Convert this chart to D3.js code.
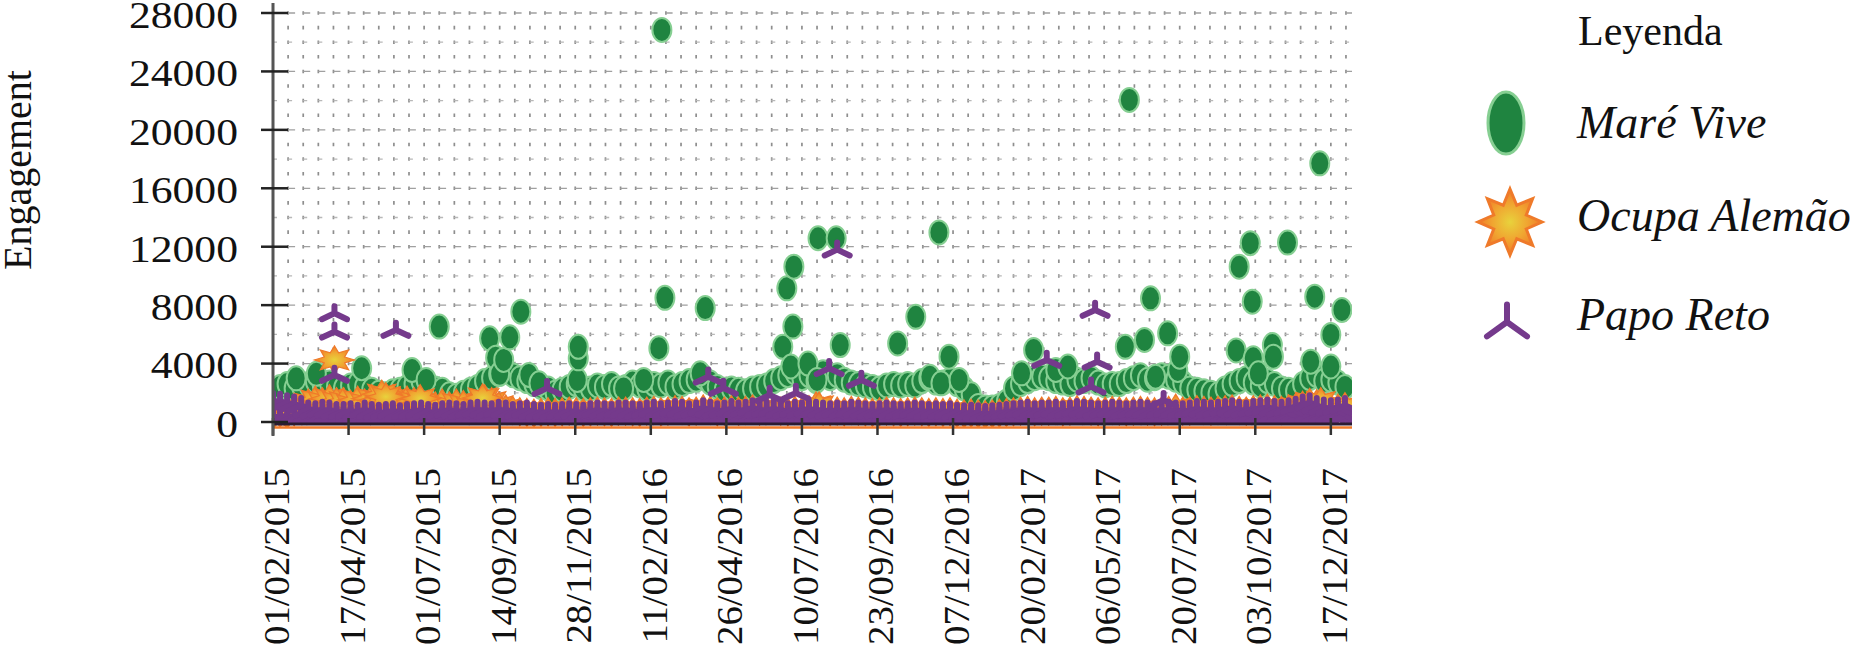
<!DOCTYPE html>
<html>
<head>
<meta charset="utf-8">
<script src="https://cdn.jsdelivr.net/npm/d3@7"></script>
<style>
  body { margin: 0; background: #fff; }
  svg { display: block; }
</style>
</head>
<body>
<svg id="chart" width="1862" height="657"></svg>
<script>
// ---- data ----
const xTickLabels = ["01/02/2015", "17/04/2015", "01/07/2015", "14/09/2015", "28/11/2015",
  "11/02/2016", "26/04/2016", "10/07/2016", "23/09/2016", "07/12/2016",
  "20/02/2017", "06/05/2017", "20/07/2017", "03/10/2017", "17/12/2017"];
const yTicks = [0, 4000, 8000, 12000, 16000, 20000, 24000, 28000];
const seriesNames = ["Maré Vive", "Ocupa Alemão", "Papo Reto"];

// weekly typical engagement, first week starting 2015-02-01
const weekStart = "2015-02-01";
const mareViveWeekly = [
  2200, 2400, 2600, 2300, 2500, 2600, 2800, 2500, 2700, 2400,
  2300, 2500, 2600, 2400, 2200, 2000, 1900, 2100, 2200, 2400,
  2600, 2800, 2500, 2300, 2200, 1900, 1800, 2000, 2200, 2400,
  2800, 3000, 3300, 3500, 3200, 3000, 2800, 2600, 2400, 2300,
  2000, 2200, 2400, 2600, 2300, 2300, 2500, 2400, 2600, 2300,
  2400, 2700, 2500, 2300, 2600, 2500, 2700, 2400, 2600, 2800,
  2900, 3100, 2700, 2400, 2200, 2300, 2200, 2100, 2300, 2400,
  2500, 2800, 3000, 3200, 3400, 3000, 3200, 2800, 3400, 3000,
  3200, 2900, 2700, 2600, 2500, 2400, 2300, 2500, 2600, 2500,
  2600, 2500, 2800, 3000, 2700, 2700, 2900, 2600, 2300, 1900,
  1100, 1000, 1000, 1100, 1400, 2300, 2600, 2800, 3000, 3100,
  3000, 2800, 2700, 2600, 2900, 2800, 3000, 2700, 2500, 2600,
  2600, 2800, 3000, 3200, 2900, 3000, 3200, 3100, 2900, 2700,
  2300, 2200, 2100, 2000, 1900, 2300, 2600, 2800, 3000, 2700,
  2500, 2800, 2600, 2300, 2200, 2100, 2600, 3000, 3200, 2800,
  2900, 2700, 2400
];
const ocupaAlemaoWeekly = [
  400, 600, 500, 700, 900, 1300, 1500, 1400, 1600, 1400,
  1400, 1200, 1500, 1300, 1600, 1500, 1700, 1600, 1400, 1500,
  1400, 1300, 1200, 1100, 1300, 1100, 1300, 1200, 1000, 900,
  1600, 1400, 1100, 900, 800, 700, 650, 600, 650, 700,
  650, 700, 750, 700, 650, 700, 750, 700, 650, 750,
  750, 700, 650, 750, 800, 700, 750, 850, 800, 700,
  750, 900, 800, 700, 750, 850, 750, 800, 900, 750,
  800, 850, 750, 700, 800, 750, 850, 1100, 750, 700,
  750, 700, 800, 750, 700, 650, 700, 750, 700, 650,
  700, 750, 700, 650, 700, 650, 700, 600, 550, 600,
  550, 500, 550, 600, 650, 700, 750, 800, 700, 750,
  750, 800, 700, 750, 850, 800, 750, 700, 750, 800,
  750, 700, 750, 800, 750, 700, 750, 800, 950, 750,
  750, 850, 800, 750, 800, 850, 900, 800, 750, 850,
  900, 950, 850, 800, 900, 1000, 1150, 1350, 1250, 950,
  900, 950, 1050
];
const papoRetoWeeklyHigh = [
  1500, 1450, 1350, 1250, 1150, 850, 800, 900, 850, 750,
  750, 800, 700, 850, 750, 700, 750, 800, 650, 750,
  800, 850, 750, 700, 800, 850, 800, 750, 850, 900,
  850, 800, 900, 850, 750, 800, 850, 750, 700, 750,
  700, 750, 800, 750, 700, 800, 850, 800, 750, 850,
  850, 800, 750, 850, 900, 800, 850, 950, 900, 800,
  850, 1000, 900, 800, 850, 950, 850, 900, 1000, 850,
  900, 950, 850, 800, 900, 850, 950, 900, 850, 800,
  850, 800, 900, 850, 800, 750, 800, 850, 800, 750,
  800, 850, 800, 750, 800, 750, 800, 700, 650, 700,
  650, 600, 650, 700, 750, 800, 850, 900, 800, 850,
  850, 900, 800, 850, 950, 900, 850, 800, 850, 900,
  850, 800, 850, 900, 850, 800, 850, 900, 850, 800,
  850, 950, 900, 850, 900, 950, 1000, 900, 850, 950,
  1000, 1050, 950, 900, 1000, 1100, 1250, 1350, 1150, 1050,
  1000, 1050, 1150
];
const papoRetoWeeklyLow = [
  450, 420, 480, 400, 460, 430, 470, 410, 440, 490,
  420, 460, 400, 450, 480, 430, 410, 470, 440, 400,
  460, 430, 490, 420, 450, 470, 400, 440, 480, 420,
  450, 410, 470, 430, 460, 400, 480, 440, 420, 460,
  430, 470, 410, 450, 490, 420, 460, 400, 440, 470,
  420, 450, 480, 410, 460, 430, 470, 400, 450, 420,
  480, 440, 410, 460, 430, 470, 420, 450, 400, 460,
  440, 480, 420, 450, 410, 470, 430, 460, 400, 440,
  470, 420, 450, 490, 430, 410, 460, 440, 480, 420,
  450, 400, 470, 430, 460, 420, 480, 440, 410, 450,
  430, 470, 400, 450, 420, 460, 490, 430, 410, 470,
  440, 420, 460, 400, 480, 450, 430, 470, 410, 440,
  460, 420, 490, 430, 450, 400, 470, 440, 420, 460,
  430, 480, 410, 450, 470, 420, 460, 400, 440, 480,
  420, 450, 470, 430, 410, 460, 440, 490, 420, 450,
  470, 430, 460
];

// single posts standing out from the weekly mass
const mareVivePosts = [
  ["2015-02-24", 2990], ["2015-03-16", 3300], ["2015-04-30", 3680], ["2015-06-19", 3560],
  ["2015-07-03", 2880], ["2015-07-16", 6530], ["2015-09-04", 5730], ["2015-09-10", 4400],
  ["2015-09-14", 3300], ["2015-09-18", 4250], ["2015-09-24", 5800], ["2015-10-05", 7550],
  ["2015-10-13", 3220], ["2015-10-23", 2650], ["2015-11-30", 2880], ["2015-12-01", 4360],
  ["2015-12-01", 5150], ["2016-01-15", 2300], ["2016-02-04", 2880], ["2016-02-19", 5050],
  ["2016-02-22", 26840], ["2016-02-25", 8500], ["2016-03-31", 3330], ["2016-04-05", 7800],
  ["2016-06-21", 5150], ["2016-06-25", 9150], ["2016-06-29", 3800], ["2016-07-01", 6530],
  ["2016-07-02", 10630], ["2016-07-16", 4000], ["2016-07-25", 2880], ["2016-07-26", 12580],
  ["2016-08-13", 12580], ["2016-08-17", 5270], ["2016-10-13", 5380], ["2016-10-31", 7200],
  ["2016-11-14", 3100], ["2016-11-23", 12980], ["2016-11-25", 2650], ["2016-12-03", 4470],
  ["2016-12-13", 2880], ["2017-02-13", 3330], ["2017-02-25", 4930], ["2017-03-19", 3560],
  ["2017-03-31", 3800], ["2017-05-27", 5150], ["2017-05-31", 22050], ["2017-06-15", 5620],
  ["2017-06-21", 8470], ["2017-06-26", 3100], ["2017-07-08", 6070], ["2017-07-18", 3560],
  ["2017-07-20", 4470], ["2017-09-14", 4900], ["2017-09-17", 10630], ["2017-09-28", 12240],
  ["2017-09-30", 8240], ["2017-10-01", 4360], ["2017-10-06", 3330], ["2017-10-20", 5270],
  ["2017-10-21", 4470], ["2017-11-04", 12280], ["2017-11-27", 4130], ["2017-12-01", 8580],
  ["2017-12-06", 17710], ["2017-12-17", 5960], ["2017-12-17", 3800], ["2017-12-28", 7670]
];
const ocupaAlemaoPosts = [
  ["2015-04-03", 4250], ["2015-05-20", 1900], ["2015-05-24", 1730], ["2015-06-27", 1600],
  ["2015-08-28", 1650], ["2016-07-27", 1100], ["2017-12-07", 1400]
];
const papoRetoPosts = [
  ["2015-04-03", 7440], ["2015-04-03", 6180], ["2015-04-03", 3220], ["2015-06-03", 6300],
  ["2015-10-31", 2320], ["2016-04-08", 3100], ["2016-04-23", 2330], ["2016-06-08", 1850],
  ["2016-07-04", 1990], ["2016-08-06", 3680], ["2016-08-14", 11800], ["2016-09-07", 2880],
  ["2017-03-10", 4250], ["2017-04-23", 2420], ["2017-04-27", 7670], ["2017-04-29", 4130],
  ["2017-07-04", 1500]
];

// ---- drawing ----
const serif = '"Liberation Serif", "Times New Roman", Times, "DejaVu Serif", serif';
const parseDay = d3.timeParse("%Y-%m-%d");
const parseTick = d3.timeParse("%d/%m/%Y");
const start = parseDay(weekStart);
const weekly = (values) => values.map((v, i) => ({ date: d3.timeDay.offset(start, 7 * i), value: v }));
const posts = (rows) => rows.map(([d, v]) => ({ date: parseDay(d), value: v }));

const green = weekly(mareViveWeekly).concat(posts(mareVivePosts));
const orange = weekly(ocupaAlemaoWeekly).concat(posts(ocupaAlemaoPosts));
const purple = weekly(papoRetoWeeklyLow)
  .concat(weekly(papoRetoWeeklyHigh))
  .concat(posts(papoRetoPosts));

const svg = d3.select("#chart");
const x = d3.scaleTime()
  .domain([parseDay("2015-02-01"), parseDay("2018-01-07")])
  .range([273, 1352]);
const y = d3.scaleLinear().domain([0, 28000]).range([422, 13]);

const colors = {
  green: "#1f8440", greenEdge: "#86cf92",
  orange: "#ef7a2a", purple: "#753a8c"
};

const defs = svg.append("defs");
const grad = defs.append("radialGradient").attr("id", "starFill");
grad.append("stop").attr("offset", "0%").attr("stop-color", "#e8d23c");
grad.append("stop").attr("offset", "55%").attr("stop-color", "#f0a531");
grad.append("stop").attr("offset", "100%").attr("stop-color", "#f07a28");
defs.append("clipPath").attr("id", "plotClip")
  .append("rect").attr("x", 273).attr("y", 0).attr("width", 1352 - 273).attr("height", 427);

function starPath(rx, ry, k) {
  const pts = d3.range(16).map(i => {
    const a = i * Math.PI / 8 - Math.PI / 2;
    const r = i % 2 ? k : 1;
    return [Math.cos(a) * rx * r, Math.sin(a) * ry * r];
  });
  return "M" + pts.map(p => p.join(",")).join("L") + "Z";
}
function triPath(w, h) {
  const up = h * 0.55, dn = h * 0.45;
  return `M0,0V${-up}M0,0L${-w / 2},${dn}M0,0L${w / 2},${dn}`;
}

// grid
const grid = svg.append("g");
const stepY = y(0) - y(1000);
grid.selectAll("line.v").data(d3.timeDay.range(x.domain()[0], x.domain()[1], 15))
  .join("line")
  .attr("x1", d => x(d)).attr("x2", d => x(d))
  .attr("y1", y(28000) - 1.8).attr("y2", y(0))
  .attr("stroke", "#8e8e8e").attr("stroke-width", 1.7)
  .attr("stroke-dasharray", `3.6 ${stepY - 3.6}`);
grid.selectAll("line.h").data(d3.range(2000, 28001, 2000))
  .join("line")
  .attr("x1", 273).attr("x2", 1352)
  .attr("y1", d => y(d)).attr("y2", d => y(d))
  .attr("stroke", d => d % 4000 === 0 ? "#a0a0a0" : "#b8b8b8")
  .attr("stroke-width", 1.3)
  .attr("stroke-dasharray", d => d % 4000 === 0 ? "7 8.1" : "4 11.1");

// marks
const plot = svg.append("g").attr("clip-path", "url(#plotClip)");
plot.append("g").selectAll("ellipse").data(green).join("ellipse")
  .attr("cx", d => x(d.date)).attr("cy", d => y(d.value))
  .attr("rx", 9.5).attr("ry", 12)
  .attr("fill", colors.green).attr("stroke", colors.greenEdge).attr("stroke-width", 2);
plot.append("g").selectAll("path").data(orange).join("path")
  .attr("transform", d => `translate(${x(d.date)},${y(d.value)})`)
  .attr("d", starPath(20, 14, 0.55))
  .attr("fill", "url(#starFill)").attr("stroke", colors.orange).attr("stroke-width", 1.2);
plot.append("g").selectAll("path").data(purple).join("path")
  .attr("transform", d => `translate(${x(d.date)},${y(d.value)})`)
  .attr("d", triPath(25, 13))
  .attr("fill", "none").attr("stroke", colors.purple)
  .attr("stroke-width", 6).attr("stroke-linecap", "round");

// x axis baseline
svg.append("line").attr("x1", 273).attr("x2", 1352).attr("y1", y(0) + 2).attr("y2", y(0) + 2)
  .attr("stroke", "#2c1b33").attr("stroke-width", 3);
svg.append("line").attr("x1", 273).attr("x2", 1352).attr("y1", y(0) + 5.5).attr("y2", y(0) + 5.5)
  .attr("stroke", colors.orange).attr("stroke-width", 2.5);

// x ticks and labels
const xTicks = xTickLabels.map(s => ({ label: s, date: parseTick(s) }));
svg.append("g").selectAll("line").data(xTicks).join("line")
  .attr("x1", d => x(d.date)).attr("x2", d => x(d.date))
  .attr("y1", y(0) - 4).attr("y2", y(0) + 13)
  .attr("stroke", "#333").attr("stroke-width", 2.5);
svg.append("g").selectAll("text").data(xTicks).join("text")
  .attr("transform", d => `translate(${x(d.date) + 16},468) rotate(-90) scale(1.08,1)`)
  .attr("text-anchor", "end")
  .attr("font-family", serif).attr("font-size", 36).attr("fill", "#111")
  .text(d => d.label);

// y axis
svg.append("line").attr("x1", 273).attr("x2", 273).attr("y1", 3).attr("y2", 436)
  .attr("stroke", "#555").attr("stroke-width", 3);
svg.append("g").selectAll("line").data(yTicks).join("line")
  .attr("x1", 261).attr("x2", 288)
  .attr("y1", d => y(d)).attr("y2", d => y(d))
  .attr("stroke", "#222").attr("stroke-width", 2.5);
svg.append("g").selectAll("text").data(yTicks).join("text")
  .attr("transform", d => `translate(238,${y(d)}) scale(1.18,1)`)
  .attr("dy", "0.4em")
  .attr("text-anchor", "end")
  .attr("font-family", serif).attr("font-size", 37).attr("fill", "#111")
  .text(d => d);
svg.append("text")
  .attr("transform", "translate(31,170) rotate(-90)")
  .attr("text-anchor", "middle")
  .attr("font-family", serif).attr("font-size", 40).attr("fill", "#111")
  .text("Engagement");

// legend
const legend = svg.append("g");
legend.append("text").attr("x", 1578).attr("y", 45)
  .attr("font-family", serif).attr("font-size", 42).attr("fill", "#111")
  .text("Leyenda");
const rowY = [138, 231, 330];
legend.append("ellipse").attr("cx", 1506).attr("cy", 123).attr("rx", 18).attr("ry", 31)
  .attr("fill", colors.green).attr("stroke", colors.greenEdge).attr("stroke-width", 3);
legend.append("path").attr("transform", "translate(1510,222)")
  .attr("d", starPath(32, 33, 0.55))
  .attr("fill", "url(#starFill)").attr("stroke", colors.orange).attr("stroke-width", 3);
legend.append("path").attr("transform", "translate(1507,322)")
  .attr("d", triPath(40, 32))
  .attr("fill", "none").attr("stroke", colors.purple).attr("stroke-width", 6).attr("stroke-linecap", "round");
legend.selectAll("text.item").data(seriesNames).join("text")
  .attr("class", "item")
  .attr("x", 1577).attr("y", (d, i) => rowY[i])
  .attr("font-family", serif).attr("font-size", 46).attr("font-style", "italic").attr("fill", "#111")
  .text(d => d);
</script>
</body>
</html>
